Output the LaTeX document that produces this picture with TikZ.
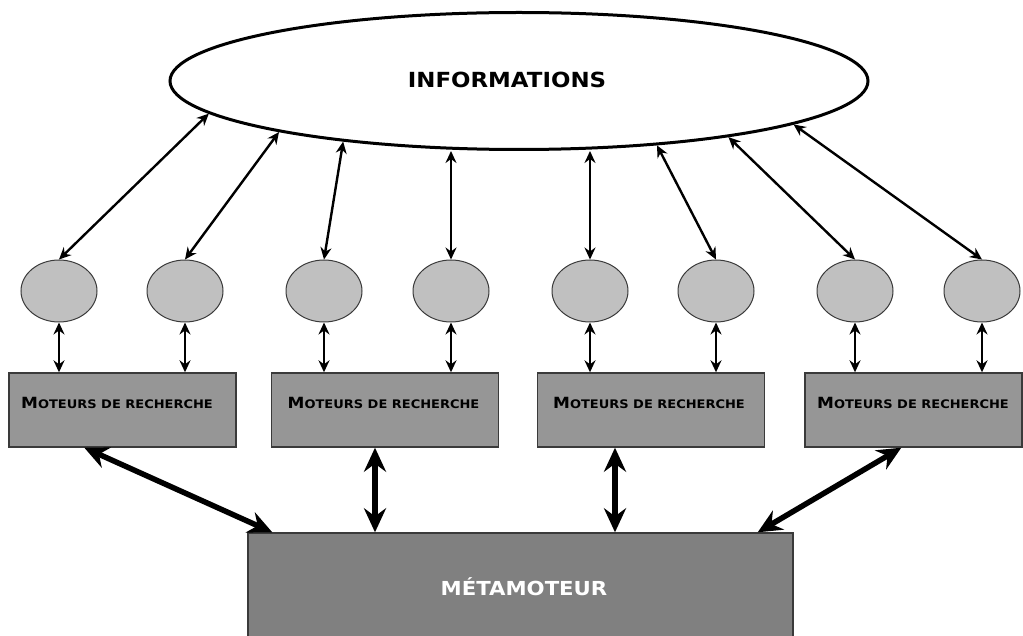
\documentclass[tikz,border=0pt]{standalone}
\usepackage{fontspec}
\setmainfont{DejaVu Sans}[FakeStretch=1.1]
\usetikzlibrary{arrows.meta,shapes.geometric,calc}
\definecolor{smallfill}{HTML}{C0C0C0}
\definecolor{boxfill}{HTML}{969696}
\definecolor{metafill}{HTML}{808080}
\definecolor{edgegray}{HTML}{3A3A3A}
\newcommand\mdrtext{{\fontsize{15.4}{15}\selectfont M}{\fontsize{11.8}{12}\selectfont OTEURS DE RECHERCHE}}
\begin{document}
\begin{tikzpicture}[x=1pt,y=-1pt,
  infonode/.style={ellipse, draw=black, line width=3pt, fill=white, minimum width=698pt, minimum height=137pt, inner sep=0pt},
  smallnode/.style={ellipse, draw=edgegray, line width=1pt, fill=smallfill, minimum width=76pt, minimum height=62pt, inner sep=0pt},
  enginebox/.style={rectangle, draw=edgegray, line width=1.4pt, fill=boxfill, minimum width=227pt, minimum height=74pt, inner sep=0pt},
  enginetext/.style={font=\bfseries, text=black, inner sep=0pt},
  metabox/.style={rectangle, draw=edgegray, line width=1.4pt, fill=metafill, minimum width=545pt, minimum height=108pt, inner sep=0pt},
  thinarrow/.style={line width=2.4pt, {Stealth[length=12pt,width=11pt,inset=4pt]}-{Stealth[length=12pt,width=11pt,inset=4pt]}},
  thickarrow/.style={line width=5.5pt, {Stealth[length=24pt,width=22pt,inset=8pt]}-{Stealth[length=24pt,width=22pt,inset=8pt]}}
]
\clip (0,0) rectangle (1023,636);
\fill[white] (0,0) rectangle (1023,636);

% big ellipse
\node[infonode] (info) at (519,81) {};
\node[font=\bfseries\fontsize{20.8}{22}\selectfont, inner sep=0pt] (infotext) at (507,80) {INFORMATIONS};

% small ellipses
\foreach \i/\x in {1/59,2/185,3/324,4/451,5/590,6/716,7/855,8/982}{
  \node[smallnode] (s\i) at (\x,291) {};
}

% engine boxes
\node[enginebox] (b1) at (122.5,410) {};
\node[enginebox] (b2) at (385,410) {};
\node[enginebox] (b3) at (651,410) {};
\node[enginebox, minimum width=217pt] (b4) at (913.5,410) {};
\node[enginetext] (t1) at (117,403) {\mdrtext};
\node[enginetext] (t2) at (383.5,403) {\mdrtext};
\node[enginetext] (t3) at (649,403) {\mdrtext};
\node[enginetext] (t4) at (913,403) {\mdrtext};

% metamoteur
\node[metabox] (m) at (520.5,587) {};
\node[text=white, font=\bfseries\fontsize{19.3}{21}\selectfont, inner sep=0pt] (mtext) at (524,587) {MÉTAMOTEUR};

% arrows between information ellipse and small ellipses
\draw[thinarrow] (s1.north) -- (info.186);
\draw[thinarrow] (s2.north) -- (info.192);
\draw[thinarrow] (s3.north) -- (info.199);
\draw[thinarrow] (s4.north) -- (s4.north |- info.south);
\draw[thinarrow] (s5.north) -- (s5.north |- info.south);
\draw[thinarrow] (s6.north) -- (info.335);
\draw[thinarrow] (s7.north) -- (info.345.7);
\draw[thinarrow] (s8.north) -- (info.351.4);

% arrows between small ellipses and boxes
\draw[thinarrow] (s1.south) -- (s1.south |- b1.north);
\draw[thinarrow] (s2.south) -- (s2.south |- b1.north);
\draw[thinarrow] (s3.south) -- (s3.south |- b2.north);
\draw[thinarrow] (s4.south) -- (s4.south |- b2.north);
\draw[thinarrow] (s5.south) -- (s5.south |- b3.north);
\draw[thinarrow] (s6.south) -- (s6.south |- b3.north);
\draw[thinarrow] (s7.south) -- (s7.south |- b4.north);
\draw[thinarrow] (s8.south) -- (s8.south |- b4.north);

% thick arrows to metamoteur
\draw[thickarrow] ([xshift=76pt]b1.south west) -- ([xshift=25pt]m.north west);
\draw[thickarrow] ([xshift=-10pt]b2.south) -- ([xshift=-10pt]b2.south |- m.north);
\draw[thickarrow] ([xshift=-36pt]b3.south) -- ([xshift=-36pt]b3.south |- m.north);
\draw[thickarrow] ([xshift=97pt]b4.south west) -- ([xshift=-36pt]m.north east);
\end{tikzpicture}
\end{document}
